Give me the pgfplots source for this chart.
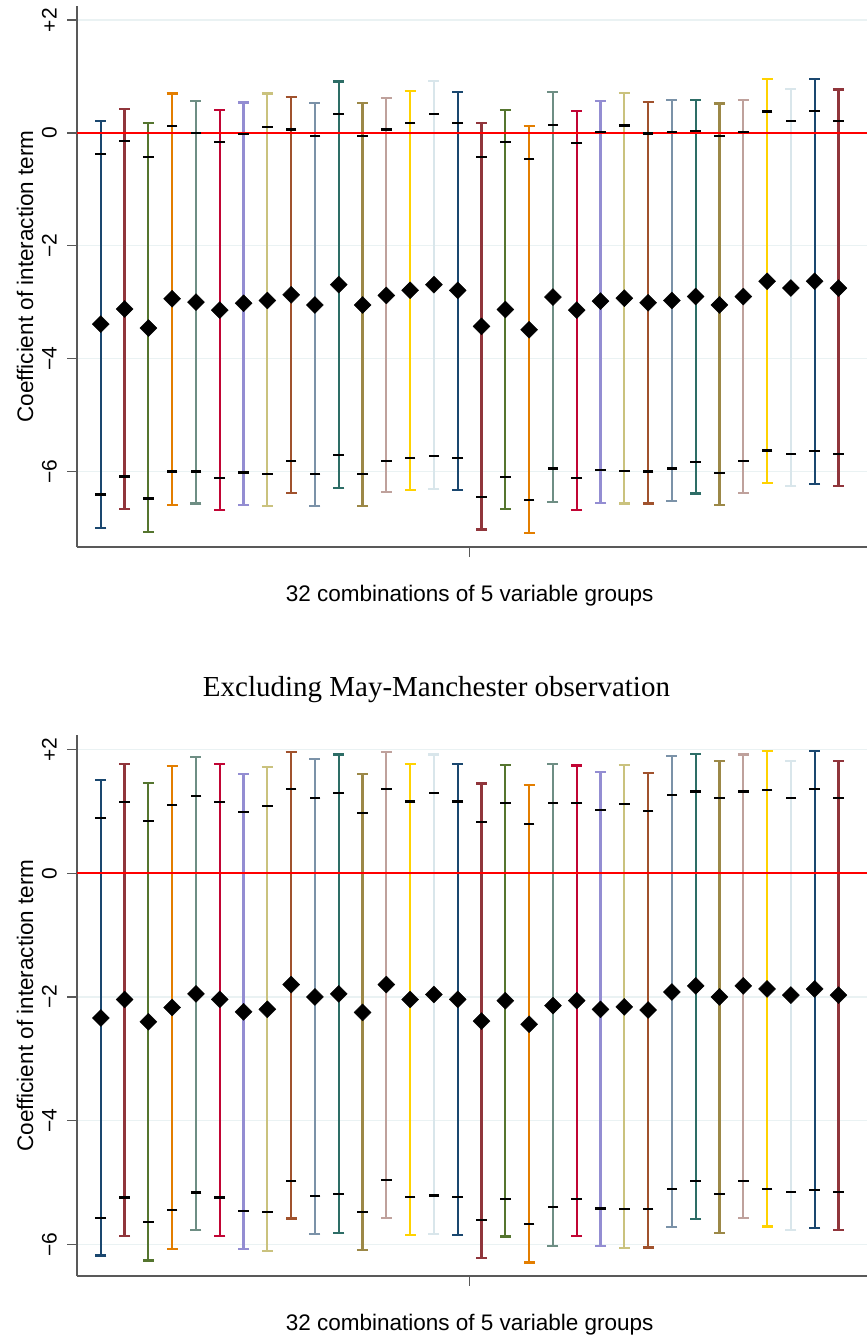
\documentclass[border=0pt]{standalone}
\usepackage{fontspec}
\setmainfont{Liberation Sans}
\newfontfamily\titlefont{Liberation Serif}
\usepackage{pgfplots}
\usepackage{pgfplotstable}
\pgfplotsset{compat=1.18}

% Stata s2color palette
\definecolor{s2navy}{RGB}{26,71,111}
\definecolor{s2maroon}{RGB}{144,53,59}
\definecolor{s2forest}{RGB}{85,117,47}
\definecolor{s2dkorange}{RGB}{227,126,0}
\definecolor{s2teal}{RGB}{110,142,132}
\definecolor{s2cranberry}{RGB}{193,5,52}
\definecolor{s2lavender}{RGB}{147,141,210}
\definecolor{s2khaki}{RGB}{202,194,126}
\definecolor{s2sienna}{RGB}{160,82,45}
\definecolor{s2emidblue}{RGB}{123,146,168}
\definecolor{s2emerald}{RGB}{45,109,102}
\definecolor{s2brown}{RGB}{156,136,71}
\definecolor{s2erose}{RGB}{191,161,156}
\definecolor{s2gold}{RGB}{255,210,0}
\definecolor{s2bluishgray}{RGB}{217,230,235}
\definecolor{gridc}{RGB}{234,242,243}

% x, 95% low, 90% low, estimate, 90% high, 95% high
\pgfplotstableread{
x lo lo90 est hi90 hi
1 -7.00 -6.41 -3.39 -0.37 0.21
2 -6.67 -6.09 -3.12 -0.14 0.43
3 -7.07 -6.48 -3.46 -0.42 0.17
4 -6.59 -6.00 -2.94 0.12 0.70
5 -6.57 -6.00 -3.00 0.00 0.57
6 -6.68 -6.11 -3.14 -0.16 0.41
7 -6.60 -6.02 -3.02 -0.02 0.54
8 -6.62 -6.04 -2.97 0.11 0.70
9 -6.38 -5.81 -2.87 0.06 0.63
10 -6.62 -6.05 -3.05 -0.05 0.53
11 -6.29 -5.71 -2.69 0.34 0.91
12 -6.62 -6.04 -3.05 -0.05 0.53
13 -6.37 -5.81 -2.88 0.06 0.62
14 -6.33 -5.76 -2.79 0.18 0.74
15 -6.31 -5.72 -2.69 0.34 0.92
16 -6.33 -5.76 -2.79 0.17 0.73
17 -7.03 -6.45 -3.43 -0.42 0.17
18 -6.67 -6.10 -3.13 -0.16 0.40
19 -7.09 -6.51 -3.49 -0.46 0.12
20 -6.54 -5.95 -2.91 0.14 0.72
21 -6.68 -6.11 -3.14 -0.18 0.39
22 -6.56 -5.98 -2.98 0.01 0.57
23 -6.57 -5.99 -2.93 0.13 0.71
24 -6.57 -6.00 -3.01 -0.01 0.55
25 -6.53 -5.95 -2.97 0.02 0.58
26 -6.39 -5.83 -2.90 0.04 0.59
27 -6.60 -6.03 -3.05 -0.06 0.52
28 -6.38 -5.82 -2.90 0.02 0.58
29 -6.21 -5.63 -2.63 0.38 0.95
30 -6.26 -5.69 -2.75 0.21 0.78
31 -6.22 -5.64 -2.63 0.39 0.96
32 -6.26 -5.69 -2.75 0.21 0.77
}\topdata

\pgfplotstableread{
x lo lo90 est hi90 hi
1 -6.18 -5.57 -2.34 0.89 1.51
2 -5.86 -5.24 -2.04 1.15 1.76
3 -6.26 -5.64 -2.40 0.84 1.46
4 -6.07 -5.44 -2.17 1.10 1.73
5 -5.77 -5.16 -1.95 1.25 1.88
6 -5.86 -5.24 -2.04 1.15 1.76
7 -6.07 -5.46 -2.24 0.99 1.61
8 -6.11 -5.48 -2.20 1.09 1.72
9 -5.58 -4.97 -1.80 1.36 1.96
10 -5.83 -5.22 -2.00 1.21 1.84
11 -5.81 -5.19 -1.95 1.30 1.92
12 -6.09 -5.47 -2.25 0.97 1.60
13 -5.57 -4.96 -1.80 1.36 1.96
14 -5.85 -5.23 -2.04 1.16 1.77
15 -5.83 -5.21 -1.96 1.30 1.92
16 -5.85 -5.23 -2.04 1.16 1.76
17 -6.22 -5.61 -2.39 0.83 1.45
18 -5.87 -5.26 -2.06 1.13 1.75
19 -6.29 -5.67 -2.44 0.80 1.42
20 -6.03 -5.40 -2.14 1.13 1.76
21 -5.86 -5.26 -2.06 1.13 1.74
22 -6.03 -5.42 -2.20 1.02 1.64
23 -6.06 -5.43 -2.16 1.12 1.75
24 -6.05 -5.43 -2.21 1.01 1.62
25 -5.72 -5.11 -1.92 1.27 1.89
26 -5.59 -4.98 -1.82 1.32 1.93
27 -5.81 -5.19 -2.00 1.21 1.82
28 -5.57 -4.97 -1.82 1.32 1.92
29 -5.71 -5.10 -1.87 1.35 1.97
30 -5.76 -5.15 -1.97 1.21 1.82
31 -5.74 -5.12 -1.87 1.36 1.97
32 -5.76 -5.15 -1.97 1.21 1.81
}\bottomdata

\pgfplotsset{
  coefplot/.style={
    scale only axis, width=790pt, height=541pt,
    xmin=0, xmax=33.2,
    axis x line=bottom, axis y line=left,
    axis line style={-, draw=black!65, line width=1.4pt},
    tick style={draw=black!65, line width=1.4pt},
    tick align=outside, major tick length=9.5pt,
    xtick={16.5}, xticklabels={},
    ytick={-6,-4,-2,0,2}, yticklabels={−6,−4,−2,0,+2},
    ymajorgrids, major grid style={draw=gridc, line width=1.4pt},
    yticklabel style={rotate=90, anchor=base, font=\fontsize{21}{25}\selectfont},
    yticklabel shift=10.8pt,
    xlabel={32 combinations of 5 variable groups},
    ylabel={Coefficient of interaction term},
    every axis x label/.style={at={(axis description cs:0.497,-0.1004)}, anchor=base},
    every axis y label/.style={at={(axis description cs:-0.0557,0.5)}, rotate=90, anchor=base},
    label style={font=\fontsize{22.5}{27}\selectfont},
    cycle list={{s2navy},{s2maroon},{s2forest},{s2dkorange},{s2teal},{s2cranberry},{s2lavender},{s2khaki},{s2sienna},{s2emidblue},{s2emerald},{s2brown},{s2erose},{s2gold},{s2bluishgray}},
  },
  cibar/.style={mark=none,
    error bars/.cd, y dir=both, y explicit, error mark=-,
    error bar style={line width=2.2pt},
    error mark options={rotate=90, line width=2.2pt, mark size=5.5pt},
    /pgfplots/.cd},
  innertick/.style={only marks, mark=-, mark size=5.3pt, mark options={draw=black, line width=2.2pt}},
  estmark/.style={only marks, mark=square*, mark size=6pt, mark options={rotate=45, fill=black, draw=black}},
}

\begin{document}
\begin{tikzpicture}
\path[use as bounding box] (0,0) rectangle (867pt,-1340pt);

\begin{axis}[coefplot, at={(77pt,-547pt)}, anchor=south west,
  ymin=-7.34, ymax=2.25]
  \pgfplotsinvokeforeach{1,...,32}{
    \addplot+[restrict x to domain=#1:#1, cibar]
      table[x=x, y=est, y error plus expr=\thisrow{hi}-\thisrow{est}, y error minus expr=\thisrow{est}-\thisrow{lo}] {\topdata};
  }
  \addplot[red, line width=2.2pt] coordinates {(0,0) (33.2,0)};
  \addplot[innertick] table[x=x, y=lo90] {\topdata};
  \addplot[innertick] table[x=x, y=hi90] {\topdata};
  \addplot[estmark] table[x=x, y=est] {\topdata};
\end{axis}

\begin{axis}[coefplot, at={(77pt,-1276pt)}, anchor=south west,
  ymin=-6.51, ymax=2.234,
  title={Excluding May-Manchester observation},
  title style={at={(axis description cs:0.455,1.0604)}, anchor=base, font=\titlefont\fontsize{29}{34}\selectfont}]
  \pgfplotsinvokeforeach{1,...,32}{
    \addplot+[restrict x to domain=#1:#1, cibar]
      table[x=x, y=est, y error plus expr=\thisrow{hi}-\thisrow{est}, y error minus expr=\thisrow{est}-\thisrow{lo}] {\bottomdata};
  }
  \addplot[red, line width=2.2pt] coordinates {(0,0) (33.2,0)};
  \addplot[innertick] table[x=x, y=lo90] {\bottomdata};
  \addplot[innertick] table[x=x, y=hi90] {\bottomdata};
  \addplot[estmark] table[x=x, y=est] {\bottomdata};
\end{axis}
\end{tikzpicture}
\end{document}
